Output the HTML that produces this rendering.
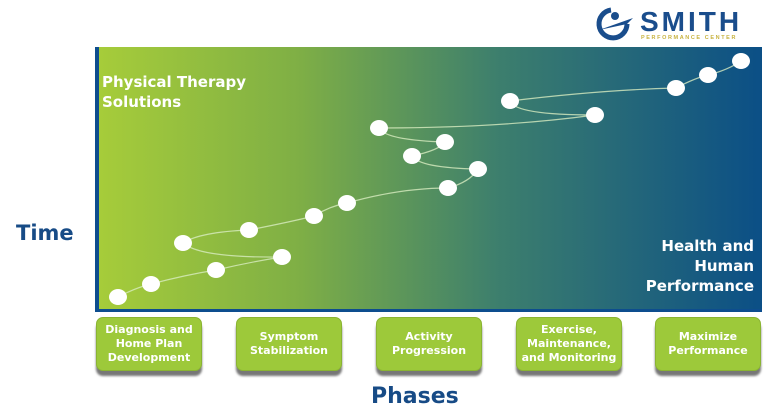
<!DOCTYPE html>
<html><head><meta charset="utf-8"><style>
body{margin:0;width:768px;height:420px;background:#fff;position:relative;overflow:hidden;font-family:"DejaVu Sans","Liberation Sans",sans-serif;font-weight:bold}
.chart{position:absolute;left:95px;top:47px;width:663px;height:262px;background:linear-gradient(90deg,#a6cc3a 0%,#7faf45 30%,#3d7f6d 60%,#0b4f86 100%);border-left:4px solid #0d4d8e;border-bottom:3px solid #0d4d8e}
.box{position:absolute;top:317px;width:104px;height:52px;background:#9dc93a;border:1px solid #8ab432;border-radius:7px;box-shadow:0 5px 2px #777;color:#fff;font-size:11px;line-height:14px;display:flex;align-items:center;justify-content:center;text-align:center}
.t{position:absolute;color:#fff;font-size:15px;line-height:20px}
</style></head><body>
<div class="chart"></div>
<svg style="position:absolute;left:0;top:0" width="768" height="420">
<g fill="none" stroke="#d8ecc0" stroke-width="1.2" opacity="0.8">
<path d="M118 297 Q135 288 151 284 Q185 275 216 270 Q250 262 282 257 Q200 258 183 243 Q200 232 249 230 Q290 222 314 216 Q330 206 347 203 Q400 188 448 188 Q470 182 478 169 Q420 168 412 156 Q440 150 445 142 Q385 140 379 128 Q500 128 595 115 Q515 115 510 101 Q600 90 676 88 Q695 78 708 75 Q728 70 741 61"/>
</g>
<g fill="#fff">
<ellipse cx="118" cy="297" rx="9" ry="8"/><ellipse cx="151" cy="284" rx="9" ry="8"/><ellipse cx="216" cy="270" rx="9" ry="8"/><ellipse cx="282" cy="257" rx="9" ry="8"/><ellipse cx="183" cy="243" rx="9" ry="8"/><ellipse cx="249" cy="230" rx="9" ry="8"/><ellipse cx="314" cy="216" rx="9" ry="8"/><ellipse cx="347" cy="203" rx="9" ry="8"/><ellipse cx="448" cy="188" rx="9" ry="8"/><ellipse cx="478" cy="169" rx="9" ry="8"/><ellipse cx="412" cy="156" rx="9" ry="8"/><ellipse cx="445" cy="142" rx="9" ry="8"/><ellipse cx="379" cy="128" rx="9" ry="8"/><ellipse cx="595" cy="115" rx="9" ry="8"/><ellipse cx="510" cy="101" rx="9" ry="8"/><ellipse cx="676" cy="88" rx="9" ry="8"/><ellipse cx="708" cy="75" rx="9" ry="8"/><ellipse cx="741" cy="61" rx="9" ry="8"/>
</g>
<g transform="translate(597,8)">
<path d="M14 2 A14 14 0 1 0 30 16" fill="none" stroke="#1a4d8c" stroke-width="5"/>
<circle cx="18" cy="8" r="4" fill="#1a4d8c"/>
<path d="M2 22 L36 10 L30 16 Z" fill="#1a4d8c"/>
</g>
<text x="640" y="31" font-size="28" fill="#1a4d8c" font-family="Liberation Sans" font-weight="bold" letter-spacing="3">SMITH</text>
<text x="641" y="39" font-size="5.5" fill="#c8b340" font-family="Liberation Sans" letter-spacing="1.6">PERFORMANCE CENTER</text>
</svg>
<div class="t" style="left:102px;top:72px">Physical Therapy<br>Solutions</div>
<div class="t" style="right:14px;top:236px;text-align:right">Health and<br>Human<br>Performance</div>
<div style="position:absolute;left:16px;top:221px;color:#174b86;font-size:21px">Time</div>
<div style="position:absolute;left:371px;top:384px;color:#174b86;font-size:22px">Phases</div>
<div class="box" style="left:96px">Diagnosis and<br>Home Plan<br>Development</div>
<div class="box" style="left:236px">Symptom<br>Stabilization</div>
<div class="box" style="left:376px">Activity<br>Progression</div>
<div class="box" style="left:516px">Exercise,<br>Maintenance,<br>and Monitoring</div>
<div class="box" style="left:655px">Maximize<br>Performance</div>
</body></html>
